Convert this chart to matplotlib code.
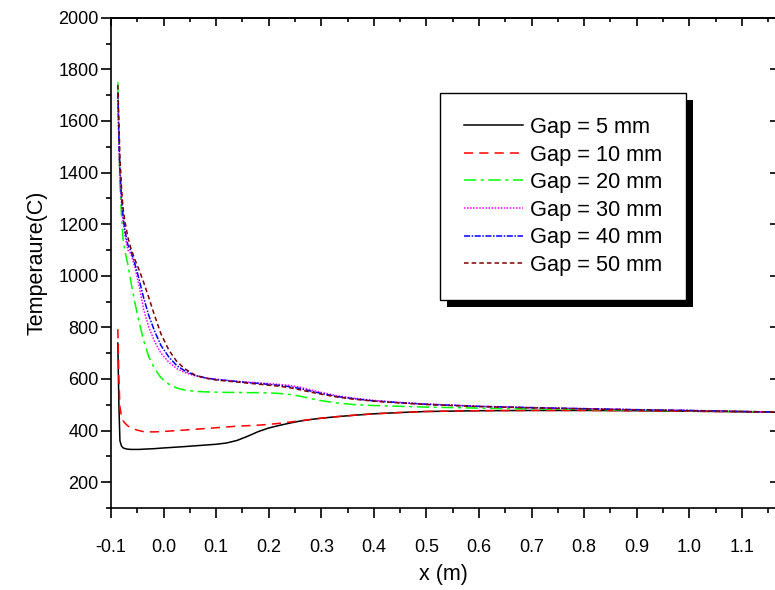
import matplotlib
matplotlib.use("Agg")
import matplotlib.pyplot as plt
from matplotlib.ticker import MultipleLocator, FormatStrFormatter
from matplotlib.patches import Rectangle

plt.rcParams['font.family'] = ['Liberation Sans', 'DejaVu Sans']

# shared x positions (m)
x = [-0.087, -0.085, -0.083, -0.08, -0.077, -0.073, -0.068, -0.062, -0.055, -0.047,
     -0.038, -0.028, -0.017, -0.005, 0.01, 0.025, 0.04, 0.06, 0.08, 0.10,
     0.12, 0.14, 0.16, 0.18, 0.20, 0.22, 0.24, 0.26, 0.28, 0.30,
     0.33, 0.36, 0.40, 0.45, 0.50, 0.60, 0.70, 0.80, 0.90, 1.00, 1.10, 1.165]

gap5 = [739, 500, 360, 340, 333, 330, 328, 327, 327, 327,
        328, 329, 330, 332, 334, 336, 338, 341, 344, 347,
        352, 362, 378, 396, 410, 420, 429, 437, 443, 448,
        454, 459, 465, 470, 474, 477, 478, 478, 477, 475, 473, 471]
gap10 = [793, 600, 492, 455, 438, 428, 418, 411, 405, 400,
         396, 395, 395, 396, 398, 400, 402, 405, 408, 411,
         414, 417, 419, 421, 424, 428, 433, 438, 443, 448,
         454, 459, 465, 470, 474, 477, 478, 478, 477, 475, 473, 471]
gap20 = [1750, 1520, 1360, 1229, 1140, 1090, 1045, 975, 900, 825,
         750, 685, 640, 605, 580, 565, 557, 552, 550, 549,
         548, 548, 547, 547, 546, 544, 540, 533, 524, 516,
         507, 501, 497, 494, 491, 487, 484, 482, 479, 477, 474, 472]
gap30 = [1690, 1500, 1380, 1280, 1210, 1150, 1100, 1085, 1035, 965,
         870, 800, 745, 700, 665, 640, 625, 612, 604, 599,
         595, 591, 588, 585, 582, 579, 575, 568, 558, 548,
         535, 526, 517, 509, 503, 494, 489, 485, 481, 478, 474, 472]
gap40 = [1710, 1540, 1410, 1305, 1230, 1170, 1120, 1095, 1050, 990,
         915, 845, 785, 730, 685, 652, 632, 614, 604, 598,
         594, 590, 586, 583, 579, 575, 570, 563, 553, 544,
         532, 524, 515, 508, 502, 494, 489, 485, 481, 478, 474, 472]
gap50 = [1739, 1600, 1460, 1340, 1260, 1205, 1150, 1105, 1065, 1025,
         975, 915, 845, 775, 712, 668, 640, 615, 603, 596,
         592, 588, 584, 580, 576, 572, 566, 558, 549, 541,
         530, 522, 514, 507, 501, 493, 488, 484, 480, 477, 474, 472]

labels = ['Gap = 5 mm', 'Gap = 10 mm', 'Gap = 20 mm', 'Gap = 30 mm', 'Gap = 40 mm', 'Gap = 50 mm']
series = [gap5, gap10, gap20, gap30, gap40, gap50]
colors = ['#000000', '#FF0000', '#00FF00', '#FF00FF', '#0000FF', '#800000']
styles = ['-', (0, (6, 4)), (0, (8, 3, 2, 3)), (0, (1, 1)), (0, (4, 1, 1, 1)), (0, (3, 2))]

fig = plt.figure(figsize=(7.75, 5.9), dpi=100)
ax = fig.add_axes([111/775, 82/590, 1.0 - 111/775 + 0.002, (508 - 17.7)/590])

for y, c, ls, lab in zip(series, colors, styles, labels):
    ax.plot(x, y, color=c, linestyle=ls, linewidth=1.1, label=lab)

ax.set_xlim(-0.1, 1.166)
ax.set_ylim(100, 2000)
ax.xaxis.set_major_locator(MultipleLocator(0.1))
ax.xaxis.set_minor_locator(MultipleLocator(0.05))
ax.xaxis.set_major_formatter(FormatStrFormatter('%.1f'))
ax.yaxis.set_major_locator(MultipleLocator(200))
ax.yaxis.set_minor_locator(MultipleLocator(100))
ax.set_yticks([200, 400, 600, 800, 1000, 1200, 1400, 1600, 1800, 2000])

for s in ['left', 'bottom', 'top']:
    ax.spines[s].set_linewidth(1.2)
ax.spines['right'].set_visible(False)

ax.tick_params(axis='both', which='major', direction='out', length=7, width=1.2, labelsize=13)
ax.tick_params(axis='both', which='minor', direction='out', length=3.5, width=1.2)
ax.tick_params(axis='x', which='major', pad=15)
ax.tick_params(axis='y', which='major', pad=2)

secx = ax.secondary_xaxis('top')
secx.xaxis.set_major_locator(MultipleLocator(0.1))
secx.xaxis.set_minor_locator(MultipleLocator(0.05))
secx.tick_params(which='major', direction='in', length=6, width=1.2, labeltop=False)
secx.tick_params(which='minor', direction='in', length=3, width=1.2)
secx.spines['top'].set_linewidth(1.2)

secy = ax.secondary_yaxis('right')
secy.yaxis.set_major_locator(MultipleLocator(200))
secy.yaxis.set_minor_locator(MultipleLocator(100))
secy.tick_params(which='major', direction='in', length=5, width=1.2, labelright=False)
secy.tick_params(which='minor', direction='in', length=1.5, width=1.2)
secy.spines['right'].set_visible(False)

ax.set_xlabel('x (m)', fontsize=15.5, labelpad=6)
ax.set_ylabel('Temperaure(C)', fontsize=15.5, labelpad=8)

leg = ax.legend(loc='upper left', bbox_to_anchor=(440/775, 1 - 93/590),
                bbox_transform=fig.transFigure, borderaxespad=0,
                fontsize=15.7, frameon=True, fancybox=False, shadow=False,
                framealpha=1.0, facecolor='white',
                handlelength=2.7, handletextpad=0.32, borderpad=1.1,
                labelspacing=0.3)
leg.get_frame().set_edgecolor('black')
leg.get_frame().set_linewidth(1.0)
leg.set_zorder(5)

fig.canvas.draw()
bb = leg.get_window_extent().transformed(ax.transAxes.inverted())
dx = 7 / (ax.bbox.width)
dy = 7 / (ax.bbox.height)
shadow = Rectangle((bb.x0 + dx, bb.y0 - dy), bb.width, bb.height,
                   transform=ax.transAxes, facecolor='black', edgecolor='none',
                   zorder=4.9, clip_on=False)
ax.add_artist(shadow)

fig.savefig('out.png', dpi=100)
